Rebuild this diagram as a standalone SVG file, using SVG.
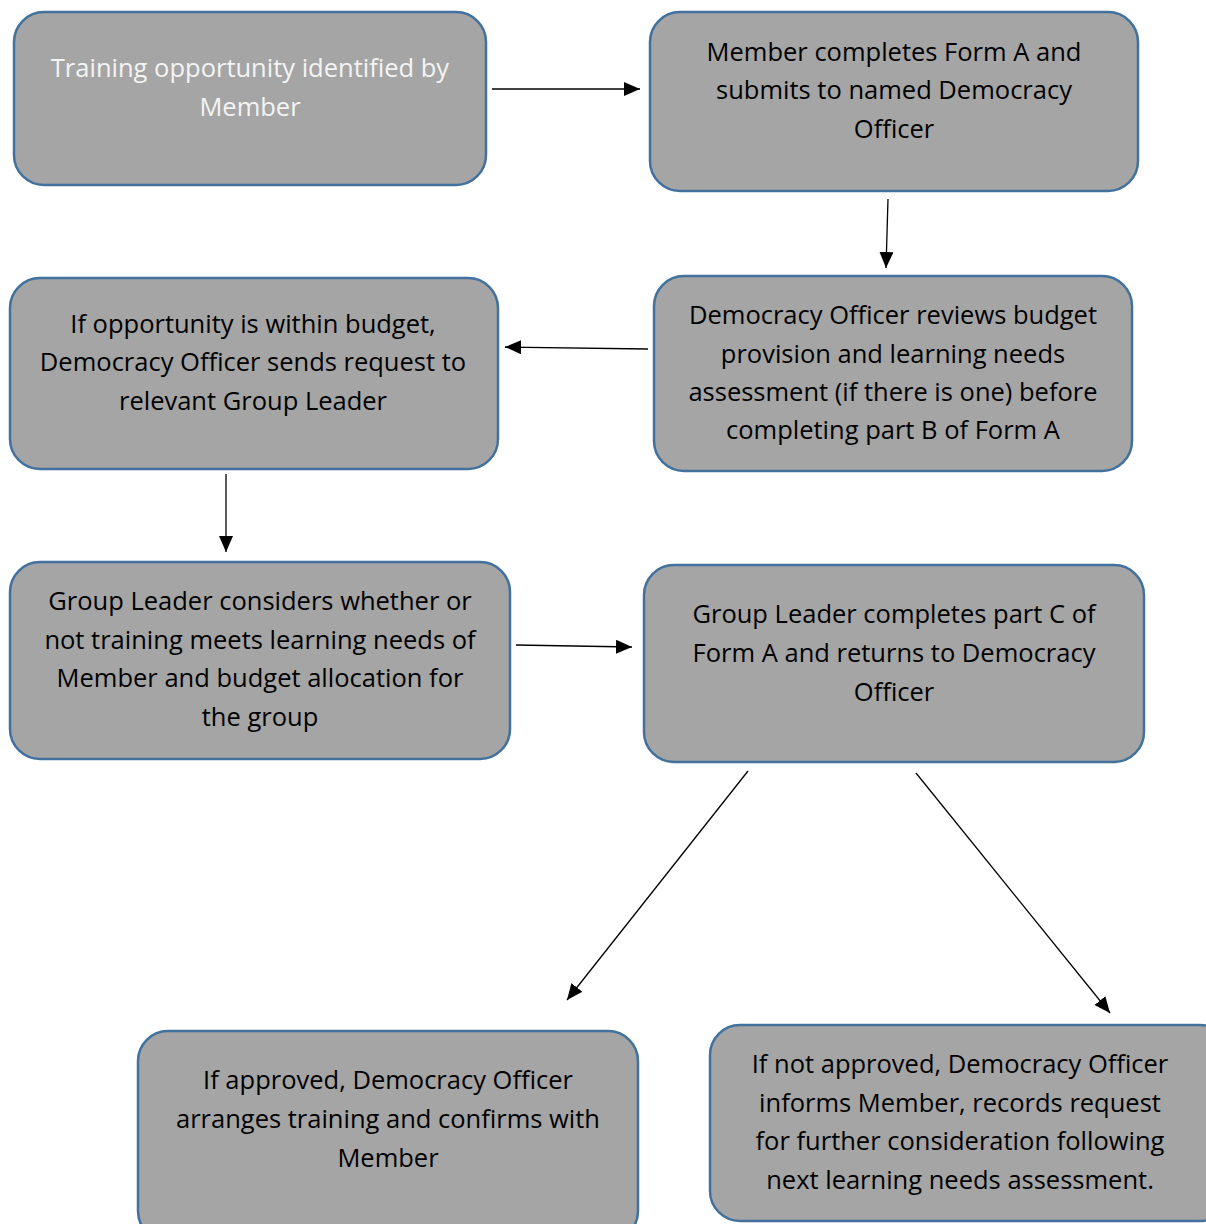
<svg xmlns="http://www.w3.org/2000/svg" width="1206" height="1224" viewBox="0 0 1206 1224">
<style>
.box{fill:#a5a5a5;stroke:#41719c;stroke-width:2.5}
.t{font-family:"Open Sans","Noto Sans","Liberation Sans",sans-serif;font-size:25.5px;fill:#000;text-anchor:middle}
.w{fill:#f4f4f4}
.c{stroke:#000;stroke-width:1.3;fill:none;marker-end:url(#ah)}
</style>
<defs>
<marker id="ah" markerUnits="userSpaceOnUse" markerWidth="18" markerHeight="14" refX="16" refY="7" orient="auto">
<path d="M0,0 L16,7 L0,14 Z" fill="#000"/>
</marker>
</defs>
<rect width="1206" height="1224" fill="#fff"/>
<g id="n1"><rect class="box" x="14" y="12" width="472" height="173" rx="30"/>
<text class="t w" x="250" y="77">Training opportunity identified by</text>
<text class="t w" x="250" y="116">Member</text></g>
<g id="n2"><rect class="box" x="650" y="12" width="488" height="179" rx="30"/>
<text class="t" x="894" y="61">Member completes Form A and</text>
<text class="t" x="894" y="99">submits to named Democracy</text>
<text class="t" x="894" y="138">Officer</text></g>
<g id="n3"><rect class="box" x="654" y="276" width="478" height="195" rx="30"/>
<text class="t" x="893" y="324">Democracy Officer reviews budget</text>
<text class="t" x="893" y="363">provision and learning needs</text>
<text class="t" x="893" y="401">assessment (if there is one) before</text>
<text class="t" x="893" y="439">completing part B of Form A</text></g>
<g id="n4"><rect class="box" x="10" y="278" width="488" height="191" rx="30"/>
<text class="t" x="253" y="333">If opportunity is within budget,</text>
<text class="t" x="253" y="371">Democracy Officer sends request to</text>
<text class="t" x="253" y="410">relevant Group Leader</text></g>
<g id="n5"><rect class="box" x="10" y="562" width="500" height="197" rx="30"/>
<text class="t" x="260" y="610">Group Leader considers whether or</text>
<text class="t" x="260" y="649">not training meets learning needs of</text>
<text class="t" x="260" y="687">Member and budget allocation for</text>
<text class="t" x="260" y="726">the group</text></g>
<g id="n6"><rect class="box" x="644" y="565" width="500" height="197" rx="30"/>
<text class="t" x="894" y="623">Group Leader completes part C of</text>
<text class="t" x="894" y="662">Form A and returns to Democracy</text>
<text class="t" x="894" y="701">Officer</text></g>
<g id="n7"><rect class="box" x="138" y="1031" width="500" height="210" rx="30"/>
<text class="t" x="388" y="1089">If approved, Democracy Officer</text>
<text class="t" x="388" y="1128">arranges training and confirms with</text>
<text class="t" x="388" y="1167">Member</text></g>
<g id="n8"><rect class="box" x="710" y="1025" width="520" height="196" rx="30"/>
<text class="t" x="960" y="1073">If not approved, Democracy Officer</text>
<text class="t" x="960" y="1112">informs Member, records request</text>
<text class="t" x="960" y="1150">for further consideration following</text>
<text class="t" x="960" y="1189">next learning needs assessment.</text></g>
<g id="connectors">
<line class="c" x1="492" y1="89" x2="640" y2="89"/>
<line class="c" x1="888" y1="199" x2="886" y2="268"/>
<line class="c" x1="648" y1="349" x2="505" y2="347"/>
<line class="c" x1="226" y1="474" x2="226" y2="552"/>
<line class="c" x1="516" y1="645" x2="632" y2="647"/>
<line class="c" x1="748" y1="771" x2="567" y2="1000"/>
<line class="c" x1="916" y1="773" x2="1110" y2="1013"/>
</g>
</svg>
